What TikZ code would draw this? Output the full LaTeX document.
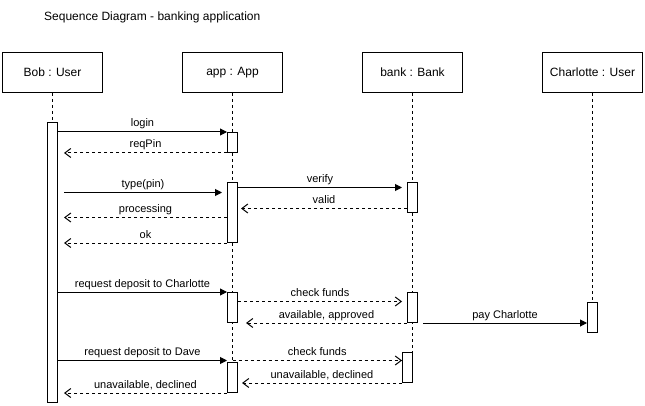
\documentclass[tikz,border=0pt]{standalone}
\usepackage{fontspec}
\setmainfont{Liberation Sans}
\usetikzlibrary{arrows.meta,calc,backgrounds}
\begin{document}
\begin{tikzpicture}[x=1pt,y=-1pt,
  head/.style={draw, line width=1pt, minimum width=100pt, minimum height=40pt, inner sep=0pt, font=\fontsize{12}{14}\selectfont},
  actbar/.style={draw, fill=white, line width=1pt, minimum width=10pt, inner sep=0pt},
  lifeline/.style={line width=1pt, dash pattern=on 3pt off 3pt},
  sync/.style={line width=1pt, -{Triangle[length=7pt,width=7pt]}},
  ret/.style={line width=1pt, dash pattern=on 3pt off 3pt, -{Straight Barb[length=6pt,width=9pt,line width=1pt]}},
  lbl/.style={anchor=base, yshift=5pt, inner sep=0pt, font=\fontsize{11}{13}\selectfont}]
\useasboundingbox (0,0) rectangle (645,406);

\node[anchor=base west, inner sep=0pt, font=\fontsize{12}{14}\selectfont] (title) at (44,20.5) {Sequence Diagram - banking application};

\node[head] (bob) at (52.5,72.5) {Bob : User};
\node[head] (app) at (232.5,72.5) {app : App};
\node[head] (bank) at (412.5,72.5) {bank : Bank};
\node[head] (charl) at (592.5,72.5) {Charlotte : User};

\node[actbar, minimum height=280pt] (b1) at (52.5,262.5) {};
\node[actbar, minimum height=20pt] (a1) at (232.5,142.5) {};
\node[actbar, minimum height=60pt] (a2) at (232.5,212.5) {};
\node[actbar, minimum height=30pt] (k1) at (412.5,197.5) {};
\node[actbar, minimum height=30pt] (a3) at (232.5,307.5) {};
\node[actbar, minimum height=30pt] (k2) at (412.5,307.5) {};
\node[actbar, minimum height=30pt] (c1) at (592.5,317.5) {};
\node[actbar, minimum height=30pt] (k3) at (407.5,367.5) {};
\node[actbar, minimum height=30pt] (a4) at (232.5,377.5) {};

\begin{scope}[on background layer]
\draw[lifeline] (bob.south) -- (b1.north);
\draw[lifeline] (app.south) -- (app.south |- a4.north);
\draw[lifeline] (bank.south) -- (bank.south |- k3.north);
\draw[lifeline] (charl.south) -- (c1.north);
\end{scope}

\coordinate (yType) at (0,192.5);
\coordinate (yVerify) at (0,187.5);
\coordinate (yValid) at (0,208.5);
\coordinate (yProc) at (0,217.5);
\coordinate (yCheck) at (0,301.5);
\coordinate (yDave) at (0,360.5);

\draw[sync] (b1.east |- a1.north) -- node[lbl]{login} (a1.north west);
\draw[ret] (a1.south west) -- node[lbl]{reqPin} ($(b1.east |- a1.south)+(6,0)$);
\draw[sync] ($(b1.east |- yType)+(6,0)$) -- node[lbl]{type(pin)} ($(a2.west |- yType)+(-5,0)$);
\draw[sync] (a2.east |- yVerify) -- node[lbl]{verify} ($(k1.west |- yVerify)+(-5,0)$);
\draw[ret] (k1.west |- yValid) -- node[lbl]{valid} ($(a2.east |- yValid)+(3,0)$);
\draw[ret] (a2.west |- yProc) -- node[lbl]{processing} ($(b1.east |- yProc)+(6,0)$);
\draw[ret] (a2.south west) -- node[lbl]{ok} ($(b1.east |- a2.south)+(6,0)$);

\draw[sync] (b1.east |- a3.north) -- node[lbl]{request deposit to Charlotte} (a3.north west);
\draw[ret] (a3.east |- yCheck) -- node[lbl]{check funds} ($(k2.west |- yCheck)+(-5,0)$);
\draw[ret] (k2.south west) -- node[lbl]{available, approved} ($(a3.east |- k2.south)+(8,0)$);
\draw[sync] ($(k2.south east)+(5,0)$) -- node[lbl]{pay Charlotte} (c1.west |- k2.south);

\draw[sync] (b1.east |- yDave) -- node[lbl]{request deposit to Dave} (a4.west |- yDave);
\draw[ret] (app.south |- yDave) -- node[lbl]{check funds} (k3.west |- yDave);
\draw[ret] (k3.south west) -- node[lbl]{unavailable, declined} ($(a4.east |- k3.south)+(4,0)$);
\draw[ret] (a4.south west) -- node[lbl]{unavailable, declined} ($(b1.east |- a4.south)+(6,0)$);
\end{tikzpicture}
\end{document}
